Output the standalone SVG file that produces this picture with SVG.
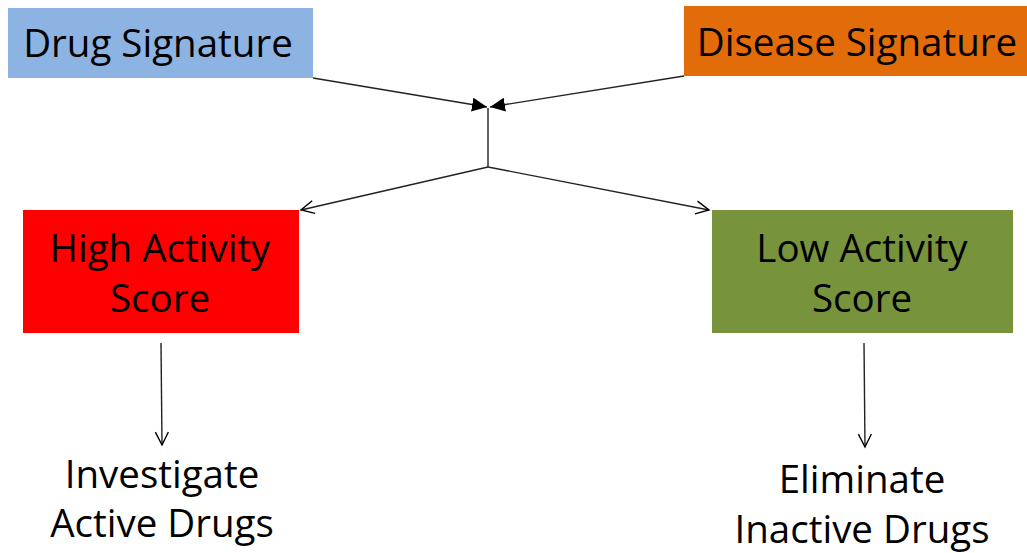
<svg xmlns="http://www.w3.org/2000/svg" width="1027" height="553" viewBox="0 0 1027 553">
<style>
.t{font-family:"Open Sans","Liberation Sans",sans-serif;font-size:38.5px;fill:#000;text-anchor:middle}
.c{stroke:#222;stroke-width:1.4;fill:none}
</style>
<defs>
<marker id="fa" markerWidth="16" markerHeight="14" refX="15" refY="7" orient="auto" markerUnits="userSpaceOnUse">
<path d="M0,0 L15,7 L0,14 Z" fill="#000"/>
</marker>
<marker id="oa" markerWidth="16" markerHeight="16" refX="14" refY="8" orient="auto" markerUnits="userSpaceOnUse">
<path d="M1,1.5 L14,8 L1,14.5" fill="none" stroke="#000" stroke-width="1.4"/>
</marker>
</defs>
<rect width="1027" height="553" fill="#fff"/>
<g id="drug-signature">
<rect x="8" y="8" width="305" height="70" fill="#8DB3E2"/>
<text class="t" x="158" y="57">Drug Signature</text>
</g>
<g id="disease-signature">
<rect x="684" y="6" width="343" height="70" fill="#E36C0A"/>
<text class="t" x="857" y="56">Disease Signature</text>
</g>
<g id="high-activity">
<rect x="23" y="210" width="276" height="123" fill="#FF0000"/>
<text class="t" x="160" y="262">High Activity</text>
<text class="t" x="160" y="312">Score</text>
</g>
<g id="low-activity">
<rect x="712" y="210" width="301" height="123" fill="#77933C"/>
<text class="t" x="862" y="262">Low Activity</text>
<text class="t" x="862" y="312">Score</text>
</g>
<g id="investigate">
<text class="t" x="162" y="488">Investigate</text>
<text class="t" x="162" y="537">Active Drugs</text>
</g>
<g id="eliminate">
<text class="t" x="862" y="493">Eliminate</text>
<text class="t" x="862" y="543">Inactive Drugs</text>
</g>
<g id="connectors">
<line class="c" x1="313" y1="78" x2="487" y2="107" marker-end="url(#fa)"/>
<line class="c" x1="684" y1="76" x2="490" y2="107" marker-end="url(#fa)"/>
<line class="c" x1="488" y1="108" x2="488" y2="167"/>
<line class="c" x1="488" y1="167" x2="301" y2="210" marker-end="url(#oa)"/>
<line class="c" x1="488" y1="167" x2="709" y2="210" marker-end="url(#oa)"/>
<line class="c" x1="161" y1="343" x2="162" y2="445" marker-end="url(#oa)"/>
<line class="c" x1="864" y1="343" x2="865" y2="447" marker-end="url(#oa)"/>
</g>
</svg>
